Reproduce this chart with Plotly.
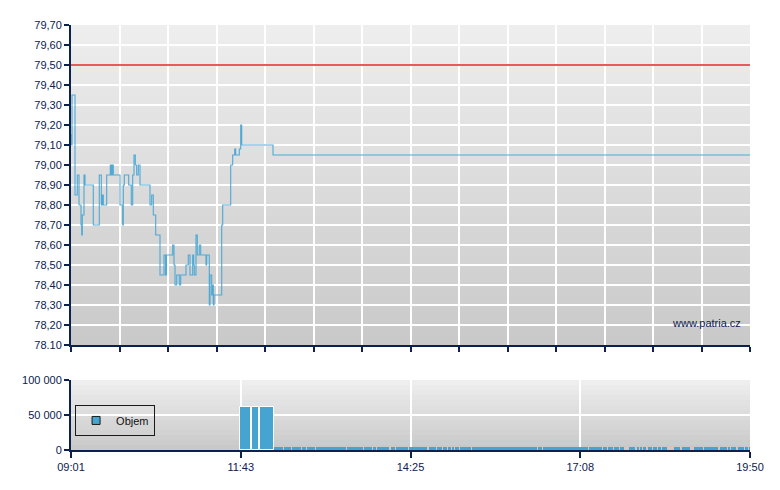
import plotly.graph_objects as go
import pandas as pd

# ---------------- data ----------------
SESSION_START = "2024-01-02 09:01:00"
SESSION_MINUTES = 649  # 09:01 -> 19:50

# price ticks: minutes after 09:01 and last price
price_minutes = [0.00, 0.67, 0.96, 3.82, 6.02, 7.65, 9.56, 10.23, 10.80, 12.43,
                 13.38, 21.30, 27.05, 28.96, 29.92, 30.87, 34.12, 37.56, 38.52, 39.47,
                 40.43, 46.83, 49.42, 49.99, 50.94, 55.15, 57.64, 58.97, 60.22, 61.46,
                 62.80, 64.33, 65.95, 75.51, 77.13, 78.66, 80.96, 85.07, 88.89, 90.33,
                 91.28, 97.21, 98.45, 99.41, 101.03, 103.52, 104.85, 109.92, 112.12, 113.74,
                 116.32, 117.28, 117.85, 119.48, 120.72, 122.63, 123.97, 129.04, 129.70, 132.19,
                 132.86, 134.48, 135.44, 136.01, 136.68, 144.04, 145.00, 152.64, 154.55, 156.47,
                 157.42, 160.86, 162.20, 163.16, 193.07, 649.00]
price_values = [79.15, 79.10, 79.35, 78.85, 78.95, 78.80, 78.70, 78.65, 78.75, 78.95,
                78.90, 78.70, 78.95, 78.80, 78.85, 78.80, 78.95, 79.00, 78.95, 79.00,
                78.95, 78.80, 78.70, 78.90, 78.95, 78.90, 78.80, 78.95, 79.05, 79.00,
                78.95, 79.00, 78.90, 78.80, 78.85, 78.75, 78.65, 78.45, 78.55, 78.45,
                78.55, 78.60, 78.50, 78.40, 78.45, 78.40, 78.45, 78.50, 78.55, 78.45,
                78.55, 78.50, 78.45, 78.65, 78.55, 78.60, 78.55, 78.50, 78.55, 78.30,
                78.45, 78.35, 78.40, 78.30, 78.35, 78.70, 78.80, 79.00, 79.05, 79.08,
                79.05, 79.08, 79.20, 79.10, 79.05, 79.05]

reference_price = 79.50

# volume bars: interval start/end (minutes after 09:01) and volume
vol_start_min = [162.0, 173.0, 180.6, 193.7, 203.6, 205.5, 211.2, 220.8, 225.6, 234.2,
                 263.8, 279.8, 288.4, 292.2, 305.6, 310.4, 323.4, 341.9, 349.8, 355.3,
                 360.3, 364.8, 366.7, 371.8, 383.3, 446.1, 450.9, 494.8, 508.2, 513.0,
                 518.7, 522.5, 525.0, 527.3, 533.3, 538.1, 541.3, 543.5, 547.0, 551.5,
                 556.0, 561.1, 565.0, 576.6, 583.7, 595.8, 605.0, 620.3, 627.7, 630.8,
                 637.8, 644.2, 648.1]
vol_end_min = [172.5, 179.7, 193.7, 203.0, 204.6, 210.3, 219.8, 224.6, 233.2, 262.9,
               278.8, 287.4, 291.2, 304.2, 309.4, 322.4, 340.0, 348.9, 354.3, 359.1,
               362.9, 365.4, 370.6, 382.0, 445.1, 449.9, 493.7, 507.2, 512.0, 517.8,
               521.6, 524.1, 526.4, 528.5, 536.9, 539.4, 542.6, 545.7, 549.5, 555.0,
               559.8, 563.7, 569.4, 582.1, 591.6, 603.8, 618.7, 626.7, 629.9, 635.6,
               643.3, 647.4, 649.0]
vol_values = [62000, 62000, 62000] + [4500] * 50

price_ticks = [78.1, 78.2, 78.3, 78.4, 78.5, 78.6, 78.7, 78.8, 78.9, 79.0,
               79.1, 79.2, 79.3, 79.4, 79.5, 79.6, 79.7]
price_tick_labels = ["78.10", "78,20", "78,30", "78,40", "78,50", "78,60", "78,70",
                     "78,80", "78,90", "79,00", "79,10", "79,20", "79,30", "79,40",
                     "79,50", "79,60", "79,70"]
vol_ticks = [0, 50000, 100000]
vol_tick_labels = ["0", "50 000", "100 000"]
time_tick_labels = ["09:01", "11:43", "14:25", "17:08", "19:50"]
legend_name = "Objem"
watermark = "www.patria.cz"

# ---------------- build ----------------
base = pd.Timestamp(SESSION_START)
to_time = lambda m: base + pd.to_timedelta(m, unit="m")

px = [to_time(m) for m in price_minutes]
vol_mid = [to_time((a + b) / 2) for a, b in zip(vol_start_min, vol_end_min)]
vol_width = [(b - a) * 60000 for a, b in zip(vol_start_min, vol_end_min)]
vol_edge = [1.0 if v > 20000 else 0 for v in vol_values]

x_end = to_time(SESSION_MINUTES)
top_ticks = [to_time(SESSION_MINUTES * i / 14) for i in range(15)]
bottom_ticks = [to_time(SESSION_MINUTES * i / 4) for i in range(5)]

NAVY = "#0b2150"
BLUE = "#45a5d0"
FONT = "Liberation Sans, Arial, sans-serif"

fig = go.Figure()
fig.add_trace(go.Scatter(x=px, y=price_values, mode="lines",
                         line=dict(color="#4ea9d5", width=1.1, shape="hv"),
                         xaxis="x", yaxis="y", showlegend=False, hoverinfo="skip"))
fig.add_trace(go.Bar(x=vol_mid, y=vol_values, width=vol_width,
                     marker=dict(color=BLUE, line=dict(width=vol_edge, color="white")),
                     xaxis="x2", yaxis="y2", showlegend=False))
# legend entry
fig.add_trace(go.Scatter(x=[None], y=[None], name=legend_name, mode="markers",
                         marker=dict(symbol="square", size=8, color=BLUE,
                                     line=dict(color="#1a1a1a", width=1)),
                         xaxis="x2", yaxis="y2", showlegend=True))

shapes = []


def gradient(xref, yref, top, bottom, n):
    for i in range(n):
        t = (i + 0.5) / n
        c = [round(bottom[k] + (top[k] - bottom[k]) * t) for k in range(3)]
        shapes.append(dict(type="rect", xref=xref, yref=yref, x0=0, x1=1,
                           y0=i / n, y1=min(1, (i + 1) / n + 0.002),
                           fillcolor="rgb(%d,%d,%d)" % tuple(c),
                           line=dict(width=0), layer="below"))


gradient("x domain", "y domain", (238, 238, 238), (201, 201, 201), 40)
gradient("x2 domain", "y2 domain", (239, 239, 239), (200, 200, 200), 14)

shapes.append(dict(type="line", xref="x domain", yref="y", x0=0, x1=1,
                   y0=reference_price, y1=reference_price,
                   line=dict(color="#e02424", width=1.3), layer="above"))

fig.update_layout(
    width=780, height=490,
    margin=dict(l=71, r=30, t=25, b=40),
    paper_bgcolor="white", plot_bgcolor="rgba(0,0,0,0)",
    font=dict(family=FONT, size=11, color=NAVY),
    shapes=shapes,
    bargap=0,
    xaxis=dict(domain=[0, 1], anchor="y", type="date",
               range=[base, x_end], tickvals=top_ticks, ticktext=[""] * 15,
               showgrid=True, gridcolor="white", gridwidth=1.5,
               ticks="outside", ticklen=5, tickwidth=1.5, tickcolor=NAVY,
               showline=True, linecolor=NAVY, linewidth=2, zeroline=False),
    yaxis=dict(domain=[0.2471, 1], anchor="x", range=[78.1, 79.7],
               tickvals=price_ticks, ticktext=price_tick_labels,
               showgrid=True, gridcolor="white", gridwidth=1.5,
               ticks="outside", ticklen=5, tickwidth=1.5, tickcolor=NAVY,
               showline=True, linecolor=NAVY, linewidth=2, zeroline=False,
               tickfont=dict(size=11, color=NAVY)),
    xaxis2=dict(domain=[0, 1], anchor="y2", type="date", matches="x",
                range=[base, x_end], tickvals=bottom_ticks, ticktext=time_tick_labels,
                showgrid=True, gridcolor="white", gridwidth=1.5,
                ticks="outside", ticklen=6, tickwidth=1.5, tickcolor=NAVY,
                showline=True, linecolor=NAVY, linewidth=2, zeroline=False,
                tickfont=dict(size=11, color=NAVY)),
    yaxis2=dict(domain=[0, 0.1647], anchor="x2", range=[0, 100000],
                tickvals=vol_ticks, ticktext=vol_tick_labels,
                showgrid=True, gridcolor="white", gridwidth=1.5,
                ticks="outside", ticklen=5, tickwidth=1.5, tickcolor=NAVY,
                showline=True, linecolor=NAVY, linewidth=2, zeroline=False,
                tickfont=dict(size=11, color=NAVY)),
    legend=dict(x=0.006, y=0.106, xanchor="left", yanchor="top",
                bgcolor="rgba(0,0,0,0)", bordercolor="#1a1a1a", borderwidth=1,
                font=dict(size=11, color="#111111"), itemwidth=30,
                tracegroupgap=0),
    annotations=[dict(text=watermark, xref="x domain", yref="y domain",
                      x=0.99, y=0.068, xanchor="right", yanchor="middle",
                      showarrow=False, font=dict(size=11, color=NAVY))],
)

fig.write_html("out.html", config={"displayModeBar": False},
               post_script="document.body.style.margin='0';")
